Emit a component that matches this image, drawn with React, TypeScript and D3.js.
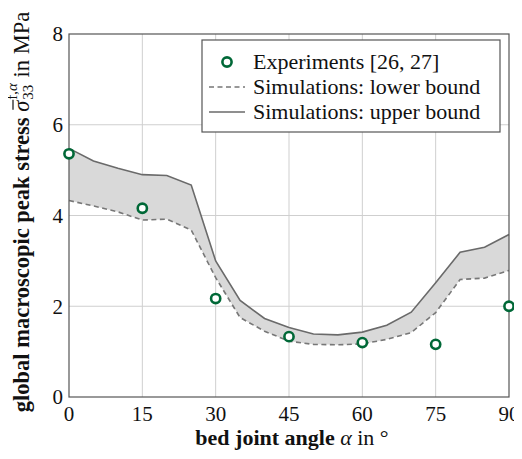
import { useEffect, useRef } from "react";
import * as d3 from "d3";

// simulation angles (deg) and bounds (MPa)
const angles = [0, 5, 10, 15, 20, 25, 30, 35, 40, 45, 50, 55, 60, 65, 70, 75, 80, 85, 90];
const upper = [5.48, 5.2, 5.04, 4.9, 4.88, 4.67, 3.0, 2.13, 1.73, 1.53, 1.39, 1.37, 1.43, 1.58, 1.87, 2.52, 3.19, 3.3, 3.58];
const lower = [4.33, 4.21, 4.08, 3.9, 3.92, 3.68, 2.63, 1.75, 1.45, 1.23, 1.16, 1.15, 1.17, 1.27, 1.42, 1.86, 2.59, 2.62, 2.79];

// experiments [26, 27]
const expAngles = [0, 15, 30, 45, 60, 75, 90];
const expValues = [5.36, 4.16, 2.17, 1.33, 1.2, 1.16, 2.0];

const xTicks = [0, 15, 30, 45, 60, 75, 90];
const yTicks = [0, 2, 4, 6, 8];

const legendLabels = ["Experiments [26, 27]", "Simulations: lower bound", "Simulations: upper bound"];

const FONT = "'Liberation Serif', 'Times New Roman', serif";

const App = () => {
  const ref = useRef<SVGSVGElement | null>(null);

  useEffect(() => {
    const svg = d3.select(ref.current);
    svg.selectAll("*").remove();

    const left = 69, right = 509, top = 34, bottom = 397;
    const x = d3.scaleLinear().domain([0, 90]).range([left, right]);
    const y = d3.scaleLinear().domain([0, 8]).range([bottom, top]);

    const g = svg.append("g");

    // grid
    g.selectAll(".gx")
      .data(xTicks.slice(1, -1))
      .enter()
      .append("line")
      .attr("x1", (d) => x(d))
      .attr("x2", (d) => x(d))
      .attr("y1", top)
      .attr("y2", bottom)
      .attr("stroke", "#cfcfcf")
      .attr("stroke-width", 1);
    g.selectAll(".gy")
      .data(yTicks.slice(1, -1))
      .enter()
      .append("line")
      .attr("x1", left)
      .attr("x2", right)
      .attr("y1", (d) => y(d))
      .attr("y2", (d) => y(d))
      .attr("stroke", "#cfcfcf")
      .attr("stroke-width", 1);

    const band = angles.map((a, i) => ({ a, lo: lower[i], hi: upper[i] }));

    const area = d3
      .area<{ a: number; lo: number; hi: number }>()
      .x((d) => x(d.a))
      .y0((d) => y(d.lo))
      .y1((d) => y(d.hi));
    g.append("path").attr("d", area(band)).attr("fill", "#d9d9d9");

    const lineHi = d3
      .line<{ a: number; lo: number; hi: number }>()
      .x((d) => x(d.a))
      .y((d) => y(d.hi));
    const lineLo = d3
      .line<{ a: number; lo: number; hi: number }>()
      .x((d) => x(d.a))
      .y((d) => y(d.lo));

    g.append("path")
      .attr("d", lineLo(band))
      .attr("fill", "none")
      .attr("stroke", "#777")
      .attr("stroke-width", 1.6)
      .attr("stroke-dasharray", "5,3.5");
    g.append("path")
      .attr("d", lineHi(band))
      .attr("fill", "none")
      .attr("stroke", "#6a6a6a")
      .attr("stroke-width", 1.6);

    // axis box
    g.append("rect")
      .attr("x", left)
      .attr("y", top)
      .attr("width", right - left)
      .attr("height", bottom - top)
      .attr("fill", "none")
      .attr("stroke", "#555")
      .attr("stroke-width", 1.2);

    // experiment markers
    g.selectAll(".exp")
      .data(expAngles)
      .enter()
      .append("circle")
      .attr("cx", (d) => x(d))
      .attr("cy", (d, i) => y(expValues[i]))
      .attr("r", 4.6)
      .attr("fill", "white")
      .attr("stroke", "#006837")
      .attr("stroke-width", 2.6);

    // tick labels
    g.selectAll(".xt")
      .data(xTicks)
      .enter()
      .append("text")
      .attr("x", (d) => x(d))
      .attr("y", bottom + 24)
      .attr("text-anchor", "middle")
      .style("font-family", FONT)
      .style("font-size", "21px")
      .style("fill", "#111")
      .text((d) => d);
    g.selectAll(".yt")
      .data(yTicks)
      .enter()
      .append("text")
      .attr("x", left - 6)
      .attr("y", (d) => y(d))
      .attr("dy", "0.35em")
      .attr("text-anchor", "end")
      .style("font-family", FONT)
      .style("font-size", "21px")
      .style("fill", "#111")
      .text((d) => d);

    // x axis label
    const xl = g
      .append("text")
      .attr("x", 292)
      .attr("y", 445)
      .attr("text-anchor", "middle")
      .style("font-family", FONT)
      .style("font-size", "22px")
      .style("fill", "#111");
    xl.append("tspan").style("font-weight", "bold").text("bed joint angle ");
    xl.append("tspan").style("font-style", "italic").text("α");
    xl.append("tspan").text(" in °");

    // y axis label (rotated, pieces measured)
    const yl = g.append("g").attr("transform", `translate(29, 212) rotate(-90)`);
    const parts = yl.append("g");
    let cx = 0;
    const t1 = parts
      .append("text")
      .attr("x", cx)
      .style("font-family", FONT)
      .style("font-size", "22.5px")
      .style("font-weight", "bold")
      .style("fill", "#111")
      .text("global macroscopic peak stress\u00a0");
    cx += (t1.node() as SVGTextElement).getComputedTextLength();
    const sig = parts
      .append("text")
      .attr("x", cx)
      .style("font-family", FONT)
      .style("font-size", "22.5px")
      .style("font-style", "italic")
      .style("fill", "#111")
      .text("σ");
    const sw = (sig.node() as SVGTextElement).getComputedTextLength();
    parts
      .append("line")
      .attr("x1", cx + 2)
      .attr("x2", cx + sw + 1)
      .attr("y1", -16)
      .attr("y2", -16)
      .attr("stroke", "#111")
      .attr("stroke-width", 1.2);
    cx += sw + 1;
    const sub = parts
      .append("text")
      .attr("x", cx)
      .attr("y", 4)
      .style("font-family", FONT)
      .style("font-size", "15px")
      .style("fill", "#111")
      .text("33");
    const sup = parts
      .append("text")
      .attr("x", cx)
      .attr("y", -12)
      .style("font-family", FONT)
      .style("font-size", "15px")
      .style("fill", "#111");
    sup.append("tspan").text("f,");
    sup.append("tspan").style("font-style", "italic").text("α");
    cx += Math.max(
      (sub.node() as SVGTextElement).getComputedTextLength(),
      (sup.node() as SVGTextElement).getComputedTextLength()
    );
    const t5 = parts
      .append("text")
      .attr("x", cx)
      .style("font-family", FONT)
      .style("font-size", "22.5px")
      .style("fill", "#111")
      .text("\u00a0in MPa");
    cx += (t5.node() as SVGTextElement).getComputedTextLength();
    parts.attr("transform", `translate(${-cx / 2}, 0)`);

    // legend
    const lx = 202, ly = 40, lw = 298, lh = 92;
    const lg = g.append("g");
    lg.append("rect")
      .attr("x", lx)
      .attr("y", ly)
      .attr("width", lw)
      .attr("height", lh)
      .attr("fill", "white")
      .attr("stroke", "#555")
      .attr("stroke-width", 1.2);
    const rowY = (i: number) => ly + 22 + i * 25;
    lg.append("circle")
      .attr("cx", lx + 25)
      .attr("cy", rowY(0))
      .attr("r", 4.6)
      .attr("fill", "white")
      .attr("stroke", "#006837")
      .attr("stroke-width", 2.6);
    lg.append("line")
      .attr("x1", lx + 7)
      .attr("x2", lx + 43)
      .attr("y1", rowY(1))
      .attr("y2", rowY(1))
      .attr("stroke", "#777")
      .attr("stroke-width", 1.6)
      .attr("stroke-dasharray", "5,3.5");
    lg.append("line")
      .attr("x1", lx + 7)
      .attr("x2", lx + 43)
      .attr("y1", rowY(2))
      .attr("y2", rowY(2))
      .attr("stroke", "#6a6a6a")
      .attr("stroke-width", 1.6);
    lg.selectAll(".lt")
      .data(legendLabels)
      .enter()
      .append("text")
      .attr("x", lx + 51)
      .attr("y", (d, i) => rowY(i))
      .attr("dy", "0.33em")
      .style("font-family", FONT)
      .style("font-size", "22px")
      .style("fill", "#111")
      .text((d) => d);
  }, []);

  return <svg ref={ref} width={522} height={459} style={{ display: "block", margin: "-8px" }} />;
};

export default App;
